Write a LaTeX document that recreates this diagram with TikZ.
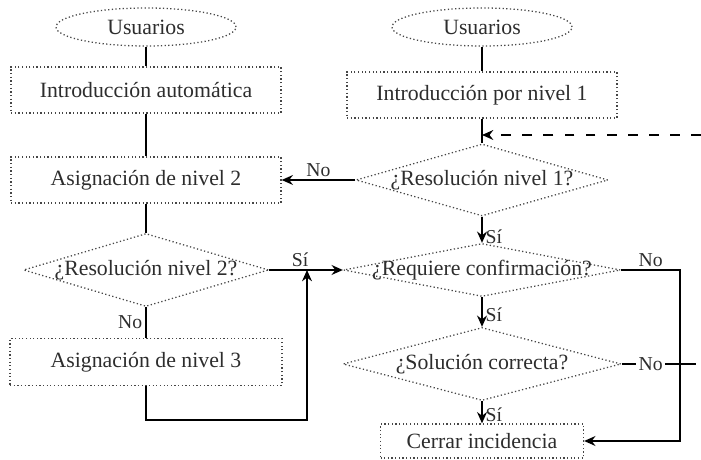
\documentclass[tikz,border=0pt]{standalone}
\usepackage{fontspec}
\setmainfont{Liberation Serif}
\usetikzlibrary{shapes.geometric,arrows.meta}

\definecolor{ink}{RGB}{45,45,45}
\definecolor{trace}{RGB}{70,70,70}

% question text may run over the diamond edges
\newcommand{\ask}[1]{\makebox[0pt]{#1}}

\begin{document}
\begin{tikzpicture}[
    font=\fontsize{15.5}{18}\selectfont,
    every node/.style={text=ink},
    edge/.style={draw=trace, line width=0.9pt, dash pattern=on 0.9pt off 1.7pt},
    actor/.style={ellipse, edge, minimum width=4.5cm, minimum height=0.95cm},
    task/.style={rectangle, edge, minimum width=6.75cm, minimum height=1.15cm},
    choice/.style={diamond, edge, inner sep=0pt, minimum width=6.3cm, minimum height=1.8cm},
    flow/.style={draw=black, line width=1.3pt},
    go/.style={flow, -{Stealth[length=8pt,width=7pt]}},
    tag/.style={font=\fontsize{14}{16}\selectfont, inner sep=2pt}
]
    \useasboundingbox (0,0) rectangle (17.525,11.5);
    \clip (0,0) rectangle (17.525,11.5);

    % Left column
    \node[actor] (u1) at (3.65,10.825) {Usuarios};
    \node[task] (a1) at (3.65,9.25) {Introducción automática};
    \node[task] (a2) at (3.65,7.0) {Asignación de nivel 2};
    \node[choice, minimum width=6.125cm, minimum height=1.825cm] (d2) at (3.65,4.75) {\ask{¿Resolución nivel 2?}};
    \node[task, minimum width=6.8cm, minimum height=1.175cm] (a3) at (3.65,2.45) {Asignación de nivel 3};

    % Right column
    \node[actor] (u2) at (12.05,10.825) {Usuarios};
    \node[task] (b1) at (12.05,9.125) {Introducción por nivel 1};
    \coordinate (j) at (12.05,8.125);
    \node[choice] (d1) at (12.05,7.0) {\ask{¿Resolución nivel 1?}};
    \node[choice, minimum width=6.925cm, minimum height=1.325cm] (d3) at (12.05,4.75) {\ask{¿Requiere confirmación?}};
    \node[choice, minimum width=6.95cm, minimum height=1.825cm] (d4) at (12.05,2.4) {\ask{¿Solución correcta?}};
    \node[task, minimum width=5.075cm, minimum height=0.85cm] (c) at (12.05,0.475) {Cerrar incidencia};

    % Turning points
    \coordinate (m) at (7.675,4.75);
    \coordinate (low) at (7.675,1.0);
    \coordinate (r) at (17.0,4.75);
    \coordinate (cut) at (17.15,2.4);
    \coordinate (far) at (17.9,2.4);

    % Left connectors
    \draw[flow] (u1) -- (a1);
    \draw[flow] (a1) -- (a2);
    \draw[flow] (a2) -- (d2);
    \draw[flow] (d2) -- node[tag, left] {No} (a3);
    \draw[go] (a3.south) |- (low) -- (m);
    \draw[go] (d2.east) -- node[tag, above, pos=0.42] {Sí} (d3.west);
    \draw[go] (d1.west) -- node[tag, above] {No} (a2.east);

    % Right connectors
    \draw[flow] (u2) -- (b1);
    \draw[flow] (b1) -- (d1);
    \draw[go] (d1) -- node[tag, right, pos=0.75] {Sí} (d3);
    \draw[go] (d3) -- node[tag, right, pos=0.6] {Sí} (d4);
    \draw[go] (d4) -- node[tag, right, pos=0.6] {Sí} (c);
    \draw[go] (d3.east) -- node[tag, above] {No} (r) |- (c.east);

    % Back to level 1
    \draw[flow] (d4.east) -- node[tag, fill=white, pos=0.45] {No} (cut);
    \draw[go, dashed, dash pattern=on 7pt off 8pt] (cut) -- (far) |- (j);
\end{tikzpicture}
\end{document}
